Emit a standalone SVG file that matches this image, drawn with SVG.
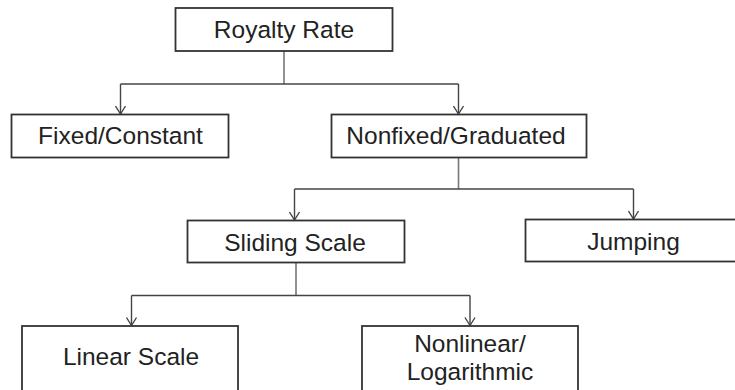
<svg xmlns="http://www.w3.org/2000/svg" width="735" height="390" viewBox="0 0 735 390">
<defs>
<style>
.box{fill:#fff;stroke:#333;stroke-width:1.8}
.lbl{font-family:"Liberation Sans",Arial,Helvetica,sans-serif;font-size:24.5px;fill:#222;text-anchor:middle}
.con{fill:none;stroke:#444;stroke-width:1.4}
.stem{fill:none;stroke:#777;stroke-width:1.6}
</style>
<marker id="arr" viewBox="0 0 12 10" refX="6" refY="9" markerWidth="12" markerHeight="10" markerUnits="userSpaceOnUse" orient="0">
<path d="M1,1 L6,9 L11,1" fill="none" stroke="#444" stroke-width="1.4"/>
</marker>
</defs>
<rect width="735" height="390" fill="#fff"/>
<g id="connectors">
<path class="stem" d="M284,51 V84"/>
<path class="con" d="M120.5,84 H458.5"/>
<path class="con" d="M120.5,84 V114" marker-end="url(#arr)"/>
<path class="con" d="M458.5,84 V114" marker-end="url(#arr)"/>
<path class="stem" d="M458.5,157.5 V189"/>
<path class="con" d="M294.5,189 H633.5"/>
<path class="con" d="M294.5,189 V220" marker-end="url(#arr)"/>
<path class="con" d="M633.5,189 V219" marker-end="url(#arr)"/>
<path class="stem" d="M296,262 V295.5"/>
<path class="con" d="M131.5,295.5 H470"/>
<path class="con" d="M131.5,295.5 V325.5" marker-end="url(#arr)"/>
<path class="con" d="M470,295.5 V325.5" marker-end="url(#arr)"/>
</g>
<g id="royalty-rate">
<rect class="box" x="175.5" y="8" width="217" height="43"/>
<text class="lbl" x="284" y="37.5">Royalty Rate</text>
</g>
<g id="fixed-constant">
<rect class="box" x="11.5" y="114.5" width="217" height="43"/>
<text class="lbl" x="120.5" y="144">Fixed/Constant</text>
</g>
<g id="nonfixed-graduated">
<rect class="box" x="331.5" y="114.5" width="255" height="43"/>
<text class="lbl" x="456" y="143.5">Nonfixed/Graduated</text>
</g>
<g id="sliding-scale">
<rect class="box" x="187.5" y="220.5" width="217" height="42"/>
<text class="lbl" x="295" y="250.5">Sliding Scale</text>
</g>
<g id="jumping">
<rect class="box" x="525.5" y="219.5" width="217" height="42"/>
<text class="lbl" x="633.5" y="249.5">Jumping</text>
</g>
<g id="linear-scale">
<rect class="box" x="22" y="326" width="216" height="80"/>
<text class="lbl" x="131" y="365">Linear Scale</text>
</g>
<g id="nonlinear-logarithmic">
<rect class="box" x="362" y="326" width="216" height="80"/>
<text class="lbl" x="470" y="351.5">Nonlinear/</text>
<text class="lbl" x="470" y="380">Logarithmic</text>
</g>
</svg>
